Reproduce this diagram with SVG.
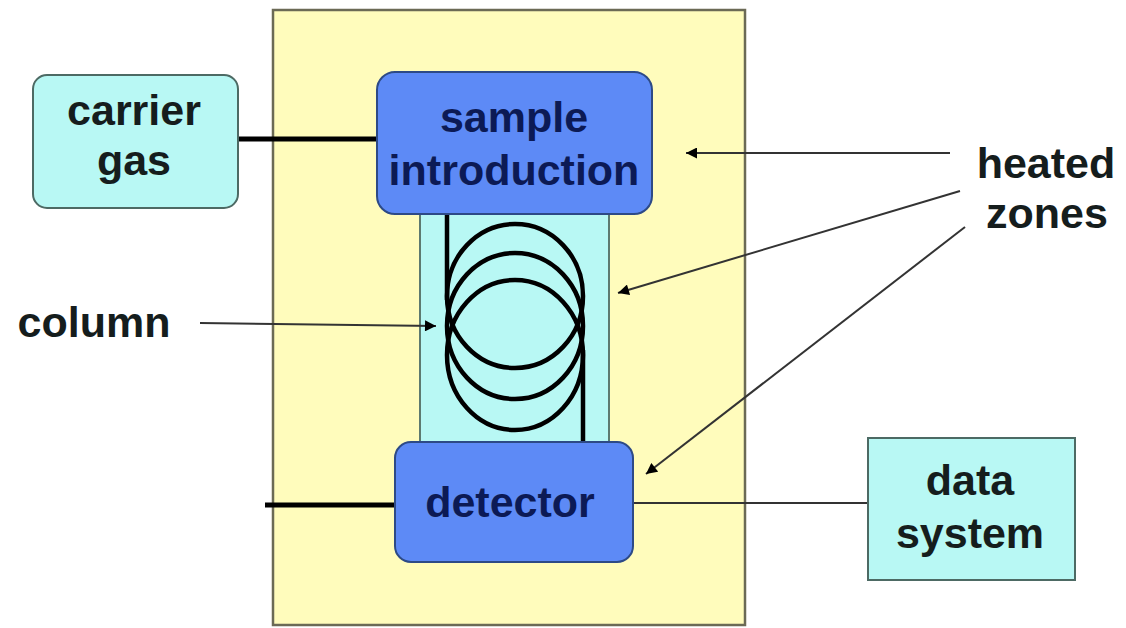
<svg xmlns="http://www.w3.org/2000/svg" width="1126" height="628" viewBox="0 0 1126 628">
<style>
text{font-family:"Liberation Sans",Arial,sans-serif;font-weight:bold;font-size:43px;text-anchor:middle}
.dark{fill:#0c1a55}
.blk{fill:#151d1d}
.blue{fill:#5d8af6;stroke:#2d4a86;stroke-width:2}
.cyan{fill:#b8f8f4;stroke:#4d6a64;stroke-width:2}
.thick{stroke:#000;stroke-width:5;fill:none}
.thin{stroke:#333;stroke-width:2;fill:none}
.ptr{stroke:#333;stroke-width:2;fill:none;marker-end:url(#ah)}
.coil{stroke:#000;stroke-width:4.5;fill:none}
</style>
<defs>
<marker id="ah" viewBox="0 0 10 10" refX="10" refY="5" markerWidth="12" markerHeight="11" markerUnits="userSpaceOnUse" orient="auto"><path d="M0,0 L10,5 L0,10 z" fill="#000"/></marker>
</defs>
<rect width="1126" height="628" fill="#fff"/>
<g id="oven">
<rect x="273" y="10" width="472" height="615" fill="#fffcbc" stroke="#6b6a55" stroke-width="2.5"/>
</g>
<g id="column">
<rect x="420" y="210" width="189" height="236" fill="#b8f8f4" stroke="#5d7a70" stroke-width="2"/>
<line class="coil" x1="447" y1="212" x2="447" y2="300"/>
<ellipse class="coil" cx="515" cy="296" rx="68" ry="72"/>
<ellipse class="coil" cx="515" cy="326" rx="68" ry="73"/>
<ellipse class="coil" cx="515" cy="355" rx="68" ry="75"/>
<line class="coil" x1="583" y1="350" x2="583" y2="445"/>
</g>
<g id="connectors">
<line class="thick" x1="238" y1="139" x2="377" y2="139"/>
<line class="thick" x1="265" y1="505" x2="396" y2="505"/>
<line class="thin" x1="633" y1="503" x2="868" y2="503"/>
<line class="ptr" x1="200" y1="323" x2="436" y2="326"/>
<line class="ptr" x1="950" y1="153" x2="686" y2="153"/>
<line class="ptr" x1="960" y1="191" x2="618" y2="293"/>
<line class="ptr" x1="965" y1="227" x2="646" y2="474"/>
</g>
<g id="sample-introduction">
<rect class="blue" x="377" y="72" width="275" height="142" rx="18"/>
<text class="dark" x="514" y="132">sample</text>
<text class="dark" x="514" y="185">introduction</text>
</g>
<g id="detector">
<rect class="blue" x="395" y="442" width="238" height="120" rx="16"/>
<text class="dark" x="510" y="517">detector</text>
</g>
<g id="carrier-gas">
<rect class="cyan" x="33" y="75" width="205" height="133" rx="14"/>
<text class="blk" x="134" y="125">carrier</text>
<text class="blk" x="134" y="175">gas</text>
</g>
<g id="data-system">
<rect class="cyan" x="868" y="438" width="207" height="142"/>
<text class="blk" x="970" y="495">data</text>
<text class="blk" x="970" y="548">system</text>
</g>
<g id="column-label">
<text class="blk" x="94" y="337">column</text>
</g>
<g id="heated-zones-label">
<text class="blk" x="1046" y="178">heated</text>
<text class="blk" x="1047" y="228">zones</text>
</g>
</svg>
